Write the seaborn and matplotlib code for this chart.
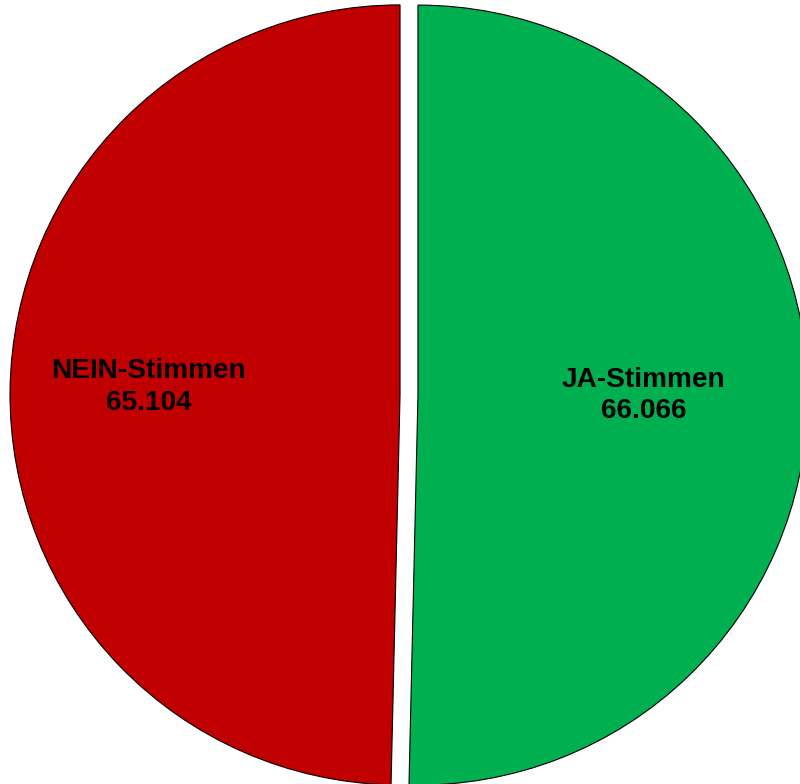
import numpy as np
import matplotlib
matplotlib.use("Agg")
import matplotlib.pyplot as plt
import seaborn as sns

categories = ["JA-Stimmen", "NEIN-Stimmen"]
values = [66066, 65104]
value_labels = ["66.066", "65.104"]
colors = ["#00B050", "#C00000"]

sns.set_theme(style="white")
plt.rcParams['font.family'] = ['Liberation Sans', 'DejaVu Sans']

fig = plt.figure(figsize=(8.0, 7.84), dpi=100)
ax = fig.add_axes([0, 0, 1, 1])
wedges, _ = ax.pie(values, colors=colors, startangle=90, counterclock=False,
                   explode=[0.023, 0.023], radius=1.0,
                   wedgeprops=dict(edgecolor="black", linewidth=0.8))

label_r = [0.578, 0.645]
label_dy = [0.005, 0.013]
for w, cat, vl, r, dy in zip(wedges, categories, value_labels, label_r, label_dy):
    mid = np.deg2rad((w.theta1 + w.theta2) / 2)
    cx, cy = w.center
    ax.text(cx + r * np.cos(mid), cy + r * np.sin(mid) + dy, f"{cat}\n{vl}",
            ha="center", va="center", fontsize=20.2, fontweight="bold",
            color="black", linespacing=1.26)

ax.set_xlim(-409 / 390, 391 / 390)
ax.set_ylim(-(784 - 395) / 390, 395 / 390)
ax.set_aspect("auto")
ax.axis("off")
fig.savefig("out.png", dpi=100)
